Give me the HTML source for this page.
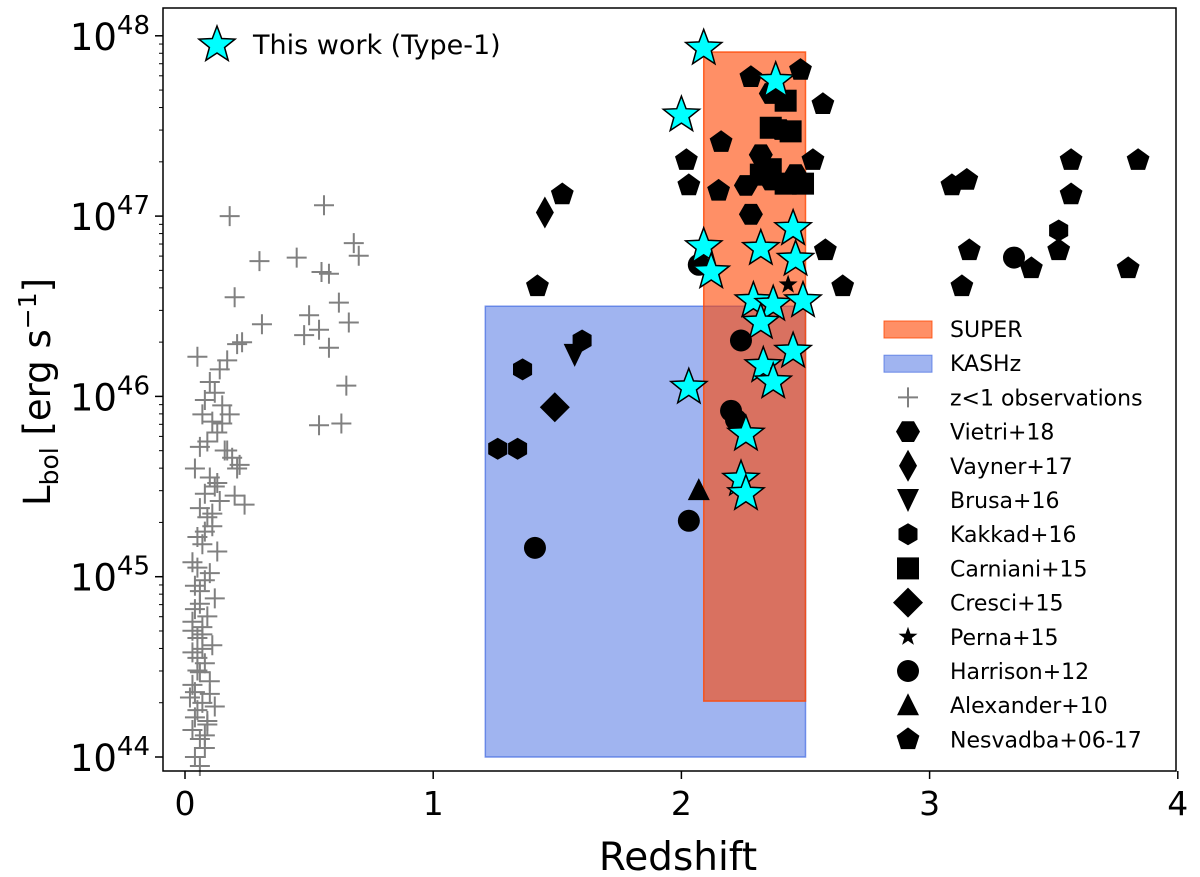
<!DOCTYPE html>
<html><head><meta charset="utf-8"><style>
body{margin:0;background:#fff}
svg{display:block;font-family:"DejaVu Sans","Liberation Sans",sans-serif}
</style></head><body>
<svg id="chart" width="1200" height="877"></svg>
<script>
const crossZ=[0.18,0.56,0.68,0.70,0.30,0.45,0.55,0.58,0.20,0.62,0.50,0.66,0.31,0.48,0.58,0.54,0.65,0.54,0.63,0.23,0.21,0.05,0.17,0.14,0.10,0.12,0.08,0.15,0.07,0.11,0.13,0.09,0.06,0.16,0.19,0.22,0.04,0.10,0.12,0.08,0.14,0.06,0.09,0.11,0.05,0.07,0.13,0.03,0.10,0.08,0.06,0.12,0.04,0.09,0.07,0.05,0.11,0.03,0.08,0.06,0.10,0.04,0.07,0.05,0.09,0.03,0.06,0.08,0.04,0.05,0.07,0.03,0.06,0.04,0.02,0.05,0.08,0.03,0.15,0.18,0.21,0.24,0.13,0.17,0.20,0.11,0.06,0.08,0.04,0.10,0.05,0.07,0.09,0.03,0.12];
const crossL=[47.0,47.06,46.85,46.78,46.75,46.77,46.69,46.68,46.55,46.52,46.45,46.41,46.40,46.34,46.27,46.37,46.06,45.84,45.85,46.30,46.29,46.22,46.20,46.15,46.08,46.02,45.98,45.95,45.90,45.86,45.80,45.75,45.72,45.70,45.66,45.62,45.60,45.55,45.50,45.46,45.42,45.38,45.33,45.28,45.22,45.18,45.14,45.08,45.02,44.98,44.92,44.88,44.82,44.78,44.72,44.66,44.62,44.58,44.52,44.47,44.42,44.36,44.30,44.26,44.20,44.15,44.10,44.05,44.0,44.55,44.68,44.40,44.85,44.95,44.33,45.05,45.25,44.75,45.85,45.90,45.60,45.40,45.52,45.70,45.45,45.35,43.95,44.12,44.22,44.35,44.48,44.60,44.18,44.70,44.28];
const nesZ=[1.52,1.42,2.02,2.03,2.15,2.16,2.28,2.48,2.57,2.53,2.58,2.65,3.09,3.15,3.16,3.13,3.41,3.52,3.57,3.57,3.84,3.80];
const nesL=[47.12,46.61,47.31,47.17,47.14,47.41,47.77,47.81,47.62,47.31,46.81,46.61,47.17,47.20,46.81,46.61,46.71,46.81,47.31,47.12,47.31,46.71];
const vieZ=[2.36,2.32,2.40,2.26,2.28,2.36,2.46];
const vieL=[47.68,47.34,47.48,47.17,47.01,47.20,47.23];
const kakZ=[1.36,1.60,1.26,1.34,3.52];
const kakL=[46.15,46.31,45.71,45.71,46.92];
const vayZ=[1.45],vayL=[47.02];
const bruZ=[1.57],bruL=[46.23];
const carZ=[2.36,2.44,2.42,2.42,2.32,2.36,2.49];
const carL=[47.49,47.47,47.64,47.18,47.23,47.26,47.18];
const creZ=[1.49],creL=[45.94];
const perZ=[2.43],perL=[46.62];
const harZ=[1.41,2.07,2.24,2.03,3.34,2.22,2.20];
const harL=[45.16,46.73,46.31,45.31,46.77,45.87,45.92];
const alxZ=[2.07],alxL=[45.48];
const starZ=[2.09,2.38,2.00,2.45,2.09,2.32,2.12,2.46,2.29,2.37,2.49,2.32,2.45,2.33,2.03,2.37,2.26,2.24,2.26];
const starL=[47.93,47.75,47.56,46.93,46.83,46.82,46.69,46.76,46.53,46.51,46.53,46.41,46.25,46.17,46.05,46.08,45.79,45.54,45.46];
const xTicks=[0,1,2,3,4];
const yTicks=[44,45,46,47,48];

const X=z=>185+z*248.2;
const Y=l=>757-(l-44)*180.3;
const svg=document.getElementById('chart');
const NS='http://www.w3.org/2000/svg';
function mk(tag,attrs,parent){const e=document.createElementNS(NS,tag);for(const k in attrs)e.setAttribute(k,attrs[k]);(parent||svg).appendChild(e);return e;}
function poly(cx,cy,r,n,rot){let p=[];for(let i=0;i<n;i++){const a=rot+i*2*Math.PI/n;p.push((cx+r*Math.cos(a)).toFixed(1)+','+(cy+r*Math.sin(a)).toFixed(1));}return p.join(' ');}
function starPts(cx,cy,R,r){let p=[];for(let i=0;i<10;i++){const a=-Math.PI/2+i*Math.PI/5;const rr=i%2?r:R;p.push((cx+rr*Math.cos(a)).toFixed(1)+','+(cy+rr*Math.sin(a)).toFixed(1));}return p.join(' ');}
function marker(type,cx,cy,g){
  let e;
  if(type==='pent')e=mk('polygon',{points:poly(cx,cy,12,5,-Math.PI/2),fill:'#000'},g);
  else if(type==='hex')e=mk('polygon',{points:poly(cx,cy,12,6,0),fill:'#000'},g);
  else if(type==='hex2')e=mk('polygon',{points:poly(cx,cy,11,6,Math.PI/2),fill:'#000'},g);
  else if(type==='thind')e=mk('polygon',{points:`${cx},${cy-16} ${cx+9},${cy} ${cx},${cy+16} ${cx-9},${cy}`,fill:'#000'},g);
  else if(type==='tridown')e=mk('polygon',{points:`${cx-11},${cy-11} ${cx+11},${cy-11} ${cx},${cy+12}`,fill:'#000'},g);
  else if(type==='square')e=mk('rect',{x:cx-11,y:cy-11,width:22,height:22,fill:'#000'},g);
  else if(type==='diamond')e=mk('polygon',{points:`${cx},${cy-15} ${cx+15},${cy} ${cx},${cy+15} ${cx-15},${cy}`,fill:'#000'},g);
  else if(type==='smallstar')e=mk('polygon',{points:starPts(cx,cy,10,4),fill:'#000'},g);
  else if(type==='circle')e=mk('circle',{cx:cx,cy:cy,r:11,fill:'#000'},g);
  else if(type==='triup')e=mk('polygon',{points:`${cx-11},${cy+10} ${cx+11},${cy+10} ${cx},${cy-12}`,fill:'#000'},g);
  else if(type==='cross'){e=mk('path',{d:`M${cx-10},${cy}H${cx+10}M${cx},${cy-10}V${cy+10}`,stroke:'#808080','stroke-width':2,fill:'none'},g);}
  else if(type==='cstar')e=mk('polygon',{points:starPts(cx,cy,19,8),fill:'#00ffff',stroke:'#000','stroke-width':1.5},g);
  return e;
}
const kas=mk('rect',{x:X(1.21),y:Y(46.5),width:X(2.5)-X(1.21),height:Y(44)-Y(46.5),fill:'rgba(65,105,225,0.5)',stroke:'rgba(65,105,225,0.7)','stroke-width':1.5});


const sup=mk('rect',{x:X(2.09),y:Y(47.91),width:X(2.5)-X(2.09),height:Y(44.31)-Y(47.91),fill:'rgba(255,69,0,0.6)',stroke:'rgba(255,69,0,0.8)','stroke-width':1.5});



function series(name,type,zs,ls){
  const g=mk('g',{});
  
  
  zs.forEach((z,i)=>{const yy=Y(ls[i]);if(yy>771)return;const m=marker(type,X(z),yy,g);
    
    });
}
series('z-lt-1-observations','cross',crossZ,crossL);
series('nesvadba-points','pent',nesZ,nesL);
series('vietri-points','hex',vieZ,vieL);
series('kakkad-points','hex2',kakZ,kakL);
series('vayner-points','thind',vayZ,vayL);
series('brusa-points','tridown',bruZ,bruL);
series('carniani-points','square',carZ,carL);
series('cresci-points','diamond',creZ,creL);
series('perna-points','smallstar',perZ,perL);
series('harrison-points','circle',harZ,harL);
series('alexander-points','triup',alxZ,alxL);
series('this-work-stars','cstar',starZ,starL);

const fr=mk('rect',{x:163,y:8,width:1013,height:763,fill:'none',stroke:'#000','stroke-width':1.5});


xTicks.forEach(t=>{
  mk('line',{x1:X(t),x2:X(t),y1:771,y2:779,stroke:'#000','stroke-width':1.5});
  const tx=mk('text',{x:X(t),y:815,'font-size':33,'text-anchor':'middle'});tx.textContent=t;
  
  
});
yTicks.forEach(t=>{
  mk('line',{x1:155,x2:163,y1:Y(t),y2:Y(t),stroke:'#000','stroke-width':1.5});
  for(let k=2;k<10&&t<48;k++){const yy=Y(t+Math.log10(k));if(yy>8)mk('line',{x1:159,x2:163,y1:yy,y2:yy,stroke:'#000','stroke-width':1});}
  const tx=mk('text',{x:150,y:Y(t)+14,'font-size':37,'text-anchor':'end'});
  tx.innerHTML='10<tspan dy="-16" font-size="26">'+t+'</tspan>';
  
  
});
const xl=mk('text',{x:678,y:870,'font-size':39,'text-anchor':'middle'});xl.textContent='Redshift';


const yl=mk('text',{x:0,y:0,'font-size':37,'text-anchor':'middle',transform:'translate(50,392) rotate(-90)'});
yl.innerHTML='L<tspan dy="8" font-size="25">bol</tspan><tspan dy="-8"> [erg s</tspan><tspan dy="-14" font-size="25">−1</tspan><tspan dy="14">]</tspan>';



const lg1=mk('g',{});


mk('polygon',{points:starPts(217,45,19,8),fill:'#00ffff',stroke:'#000','stroke-width':1.5},lg1);
const t1=mk('text',{x:253,y:54,'font-size':27},lg1);t1.textContent='This work (Type-1)';

const leg=mk('g',{});


const entries=[['rect1','SUPER'],['rect2','KASHz'],['cross','z<1 observations'],['hex','Vietri+18'],['thind','Vayner+17'],['tridown','Brusa+16'],['hex2','Kakkad+16'],['square','Carniani+15'],['diamond','Cresci+15'],['smallstar','Perna+15'],['circle','Harrison+12'],['triup','Alexander+10'],['pent','Nesvadba+06-17']];
entries.forEach((e,i)=>{
  const cy=329+i*34.2;
  const g=mk('g',{},leg);
  
  
  if(e[0]==='rect1')mk('rect',{x:884,y:cy-8,width:48,height:17,fill:'rgba(255,69,0,0.6)',stroke:'rgba(255,69,0,0.8)'},g);
  else if(e[0]==='rect2')mk('rect',{x:884,y:cy-8,width:48,height:17,fill:'rgba(65,105,225,0.5)',stroke:'rgba(65,105,225,0.7)'},g);
  else marker(e[0],908,cy,g);
  const t=mk('text',{x:950,y:cy+8,'font-size':22},g);t.textContent=e[1];
});
</script>
</body></html>
